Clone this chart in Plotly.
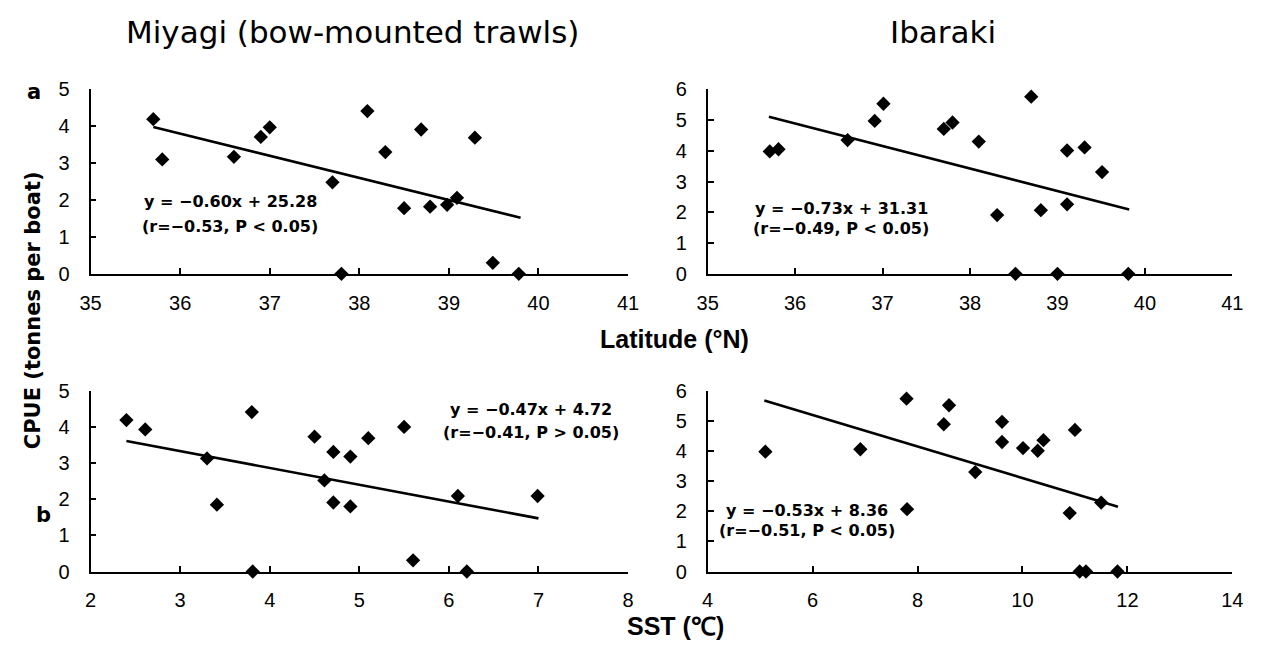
import plotly.graph_objects as go

W, H = 1264, 655

# ---------------- data ----------------
# Panel a, Miyagi: latitude vs CPUE
miyagi_lat = [35.70, 35.80, 36.60, 36.90, 37.00, 37.70, 37.80, 38.09, 38.29, 38.50,
              38.69, 38.79, 38.98, 39.09, 39.29, 39.49, 39.78]
miyagi_lat_cpue = [4.19, 3.10, 3.17, 3.71, 3.97, 2.48, 0.00, 4.41, 3.30, 1.78,
                   3.91, 1.82, 1.87, 2.06, 3.69, 0.30, 0.00]
miyagi_lat_fit_x = [35.70, 39.80]
miyagi_lat_fit_y = [3.98, 1.52]

# Panel a, Ibaraki: latitude vs CPUE
ibaraki_lat = [35.71, 35.81, 36.60, 36.91, 37.01, 37.70, 37.80, 38.10, 38.31, 38.52,
               38.70, 38.81, 39.00, 39.11, 39.11, 39.31, 39.51, 39.81]
ibaraki_lat_cpue = [3.98, 4.05, 4.35, 4.97, 5.53, 4.71, 4.92, 4.30, 1.91, 0.00,
                    5.76, 2.07, 0.00, 4.01, 2.26, 4.11, 3.31, 0.00]
ibaraki_lat_fit_x = [35.70, 39.82]
ibaraki_lat_fit_y = [5.11, 2.09]

# Panel b, Miyagi: SST vs CPUE
miyagi_sst = [2.40, 2.61, 3.30, 3.41, 3.80, 3.81, 4.50, 4.61, 4.71, 4.71,
              4.90, 4.90, 5.10, 5.50, 5.60, 6.10, 6.20, 6.99]
miyagi_sst_cpue = [4.19, 3.93, 3.13, 1.85, 4.41, 0.00, 3.73, 2.52, 3.31, 1.91,
                   3.18, 1.80, 3.69, 4.00, 0.31, 2.09, 0.00, 2.09]
miyagi_sst_fit_x = [2.40, 7.00]
miyagi_sst_fit_y = [3.61, 1.47]

# Panel b, Ibaraki: SST vs CPUE
ibaraki_sst = [5.10, 6.91, 7.79, 7.80, 8.50, 8.60, 9.10, 9.61, 9.61, 10.01,
               10.29, 10.40, 10.90, 11.00, 11.09, 11.21, 11.50, 11.81]
ibaraki_sst_cpue = [3.98, 4.06, 5.74, 2.07, 4.89, 5.52, 3.30, 4.97, 4.30, 4.10,
                    4.01, 4.36, 1.94, 4.70, 0.00, 0.00, 2.29, 0.00]
ibaraki_sst_fit_x = [5.08, 11.82]
ibaraki_sst_fit_y = [5.68, 2.15]

column_titles = ["Miyagi (bow-mounted trawls)", "Ibaraki"]
equations = [
    ("y = \u22120.60x + 25.28", "(r=\u22120.53, P < 0.05)"),
    ("y = \u22120.73x + 31.31", "(r=\u22120.49, P < 0.05)"),
    ("y = \u22120.47x + 4.72", "(r=\u22120.41, P > 0.05)"),
    ("y = \u22120.53x + 8.36", "(r=\u22120.51, P < 0.05)"),
]
eq_pos = [  # x, y line1, y line2 (data units)
    (36.56, 1.97, 1.28),
    (36.53, 2.14, 1.46),
    (6.92, 4.49, 3.86),
    (5.90, 2.04, 1.35),
]

# ---------------- figure ----------------
fig = go.Figure()

panels = [
    (miyagi_lat, miyagi_lat_cpue, miyagi_lat_fit_x, miyagi_lat_fit_y, "x", "y"),
    (ibaraki_lat, ibaraki_lat_cpue, ibaraki_lat_fit_x, ibaraki_lat_fit_y, "x2", "y2"),
    (miyagi_sst, miyagi_sst_cpue, miyagi_sst_fit_x, miyagi_sst_fit_y, "x3", "y3"),
    (ibaraki_sst, ibaraki_sst_cpue, ibaraki_sst_fit_x, ibaraki_sst_fit_y, "x4", "y4"),
]
for xs, ys, fx, fy, xa, ya in panels:
    fig.add_trace(go.Scatter(x=fx, y=fy, mode="lines", xaxis=xa, yaxis=ya,
                             line=dict(color="black", width=2.6), showlegend=False,
                             cliponaxis=False))
    fig.add_trace(go.Scatter(x=xs, y=ys, mode="markers", xaxis=xa, yaxis=ya,
                             marker=dict(symbol="diamond", size=11, color="black",
                                         line=dict(width=0)),
                             showlegend=False, cliponaxis=False))

def xd(a, b):
    return [a / W, b / W]

def yd(top, bottom):
    return [1 - bottom / H, 1 - top / H]

tickfont = dict(family="Liberation Sans Narrow, Arial Narrow, Liberation Sans, sans-serif",
                size=20, color="black")
common = dict(showline=True, linecolor="black", linewidth=1.8, ticks="inside",
              ticklen=6, tickwidth=1.6, tickcolor="black", showgrid=False,
              zeroline=False, tickfont=tickfont, fixedrange=True)
xc = dict(ticklabelstandoff=10, **common)
yc = dict(ticklabelstandoff=15, **common)

fig.update_layout(
    width=W, height=H,
    margin=dict(l=0, r=0, t=0, b=0),
    paper_bgcolor="white", plot_bgcolor="white",
    xaxis=dict(domain=xd(81, 628), range=[35, 41], dtick=1, anchor="y", **xc),
    yaxis=dict(domain=yd(81, 272), range=[0, 5], dtick=1, anchor="x", **yc),
    xaxis2=dict(domain=xd(709, 1243), range=[35, 41], dtick=1, anchor="y2", **xc),
    yaxis2=dict(domain=yd(81, 272), range=[0, 6], dtick=1, anchor="x2", **yc),
    xaxis3=dict(domain=xd(81, 628), range=[2, 8], dtick=1, anchor="y3", **xc),
    yaxis3=dict(domain=yd(393, 580), range=[0, 5], dtick=1, anchor="x3", **yc),
    xaxis4=dict(domain=xd(709, 1243), range=[4, 14], dtick=2, anchor="y4", **xc),
    yaxis4=dict(domain=yd(393, 580), range=[0, 6], dtick=1, anchor="x4", **yc),
)

ann = []
eqfont = dict(family="DejaVu Sans, sans-serif", size=16, color="black", weight="bold")
axes_refs = [("x", "y"), ("x2", "y2"), ("x3", "y3"), ("x4", "y4")]
for (l1, l2), (ex, ey1, ey2), (xr, yr) in zip(equations, eq_pos, axes_refs):
    for txt, ey in ((l1, ey1), (l2, ey2)):
        ann.append(dict(text=txt, x=ex, y=ey, xref=xr, yref=yr, showarrow=False,
                        xanchor="center", yanchor="middle", font=eqfont))

def paper(text, px, py, font, angle=0):
    return dict(text=text, x=px / W, y=1 - py / H, xref="paper", yref="paper",
                showarrow=False, xanchor="center", yanchor="middle", font=font,
                textangle=angle)

titlefont = dict(family="DejaVu Sans, sans-serif", size=31, color="black")
ann.append(paper(column_titles[0], 348, 22, titlefont))
ann.append(paper(column_titles[1], 948, 22, titlefont))

boldfont = dict(family="Liberation Sans, Arial, sans-serif", size=25, color="black",
                weight="bold")
ann.append(paper("Latitude (\u00b0N)", 675, 339, boldfont))
ann.append(paper("SST (\u2103)", 676, 636, boldfont))

cpuefont = dict(family="DejaVu Sans, sans-serif", size=21, color="black", weight="bold")
ann.append(paper("CPUE (tonnes per boat)", 22, 310, cpuefont, angle=-90))

letterfont = dict(family="DejaVu Sans, sans-serif", size=21, color="black", weight="bold")
ann.append(paper("a", 23, 84, letterfont))
ann.append(paper("b", 33, 522, letterfont))

fig.update_layout(annotations=ann)

fig.write_html("out.html")
